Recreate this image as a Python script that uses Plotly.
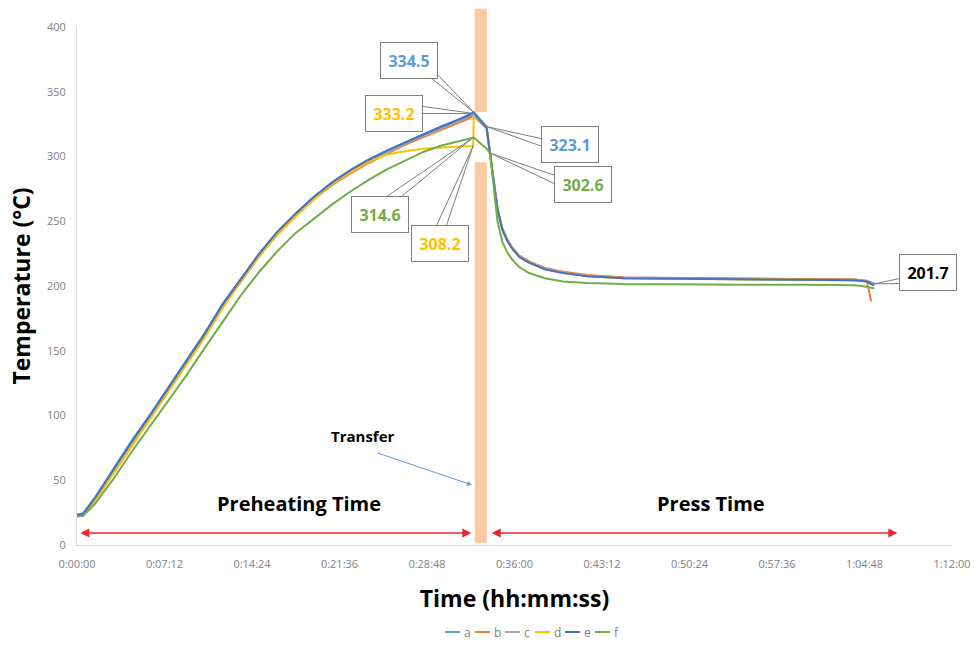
import math
import plotly.graph_objects as go

# Elapsed time in minutes shared by all six thermocouple traces
TIME_MIN = [0, 0.5, 1.5, 3, 4.5, 6, 7.5, 9, 10.5, 12, 13.5, 15, 16.5, 18, 19.5, 21,
            22.5, 24, 25.5, 27, 28.5, 30, 31.5, 32.3, 32.6, 32.65, 33.7, 34.0, 34.3,
            34.6, 35.0, 35.4, 35.8, 36.4, 37.2, 38.5, 40, 42, 45, 50, 55, 60, 64,
            65.0, 65.35, 65.6]

TEMP_A = [23.5, 24.5, 37, 58.5, 80.5, 100.5, 121.5, 142.5, 163.5, 186.5, 206, 225, 242,
          256, 269, 280, 289.5, 297.5, 304.5, 311, 317.5, 323.5, 329, 333, 334.5, 334.3,
          323.1, 300.5, 279.5, 259.5, 244, 235.5, 229.5, 223, 218.5, 213.5, 210.5, 208,
          206.5, 206, 205.5, 205.5, 205, 204, 202.5, 201.7]
TEMP_B = [23, 23.5, 35, 56, 78, 98, 119, 140, 161, 184, 204, 223, 240, 254, 267, 278,
          287, 295, 302, 309, 315, 320.5, 326, 329.5, 331.5, 331.3, 321.5, 299.5, 279,
          259.5, 244.5, 236, 230, 223.5, 219, 214, 211, 208.5, 206.5, 206, 205.5, 205.5,
          205, 203.5, 188, None]
TEMP_C = [23, 24, 36, 57, 79, 99, 120, 141, 162, 185, 205, 224, 241, 255, 268, 279, 288,
          296, 303, 310, 316, 322, 327.5, 331, 332.5, 332.3, 322, 299.5, 279, 259, 244,
          235.5, 229.5, 223, 218.5, 213.5, 210.5, 208, 206, 205.5, 205, 205, 204.5,
          203.5, 201.5, 201]
TEMP_D = [22.5, 23, 34, 55, 77, 97, 118, 139, 160, 183, 204, 223, 240, 254, 267, 279,
          288, 296, 301.5, 304, 306, 307, 307.8, 308.2, 308.2, 333.2, 323, 300, 279, 259,
          243.5, 235, 229, 222.5, 218, 213, 210, 207.5, 206, 205.5, 205, 205, 204.5,
          203.5, 201.5, 201]
TEMP_E = [23, 24, 36.5, 58, 80, 100, 121, 142, 163, 186, 206, 225, 242, 256, 269, 280,
          289.5, 297.5, 304.5, 311, 317, 323, 328.5, 332, 333.8, 333.6, 322.6, 300, 279,
          259, 243.5, 235, 229, 222.5, 218, 213, 210, 207.5, 206, 205.5, 205, 205, 204.5,
          203.5, 201.5, 200.8]
TEMP_F = [22, 22.5, 32, 51, 72, 92, 112, 131, 152, 173, 193, 211, 227, 241, 252, 263,
          273, 282, 290, 297, 303.5, 308.5, 312, 313.8, 314.6, 314.6, 306, 302.6, 276, 250,
          234, 226, 220.5, 214.5, 210, 206, 203.5, 202.3, 201.5, 201, 201, 201, 200.5,
          199.5, 198.5, 198]

SERIES_NAMES = ["a", "b", "c", "d", "e", "f"]
SERIES_COLORS = ["#5B9BD5", "#ED7D31", "#A5A5A5", "#FFC000", "#4472C4", "#70AD47"]
SERIES_VALUES = [TEMP_A, TEMP_B, TEMP_C, TEMP_D, TEMP_E, TEMP_F]

X_TICK_VALS = [0, 7.2, 14.4, 21.6, 28.8, 36, 43.2, 50.4, 57.6, 64.8, 72]
X_TICK_TEXT = ["0:00:00", "0:07:12", "0:14:24", "0:21:36", "0:28:48", "0:36:00",
               "0:43:12", "0:50:24", "0:57:36", "1:04:48", "1:12:00"]

# Transfer window between the preheating and press stages (minutes)
TRANSFER_START, TRANSFER_END = 32.73, 33.72
PREHEAT_SPAN = (0.15, 32.45)
PRESS_SPAN = (34.0, 67.5)

X_RANGE = [0, 72]
Y_RANGE = [0, 400]

# Figure geometry
W, H = 974, 651
M_L, M_R, M_T, M_B = 77, 22, 27, 106
PLOT_W = W - M_L - M_R
PLOT_H = H - M_T - M_B
PX_PER_X = PLOT_W / (X_RANGE[1] - X_RANGE[0])
PX_PER_Y = PLOT_H / (Y_RANGE[1] - Y_RANGE[0])

fig = go.Figure()

# Transfer band: drawn in two pieces leaving a window where the curves cross
band_color = "#FBC9A4"
fig.add_shape(type="rect", xref="x", yref="paper", x0=TRANSFER_START, x1=TRANSFER_END,
              y0=0.836, y1=1.035, fillcolor=band_color, line_width=0, layer="below")
fig.add_shape(type="rect", xref="x", yref="paper", x0=TRANSFER_START, x1=TRANSFER_END,
              y0=0.004, y1=0.739, fillcolor=band_color, line_width=0, layer="below")

for name, color, vals in zip(SERIES_NAMES, SERIES_COLORS, SERIES_VALUES):
    fig.add_trace(go.Scatter(x=TIME_MIN, y=vals, mode="lines", name=name,
                             line=dict(color=color, width=2), connectgaps=False,
                             showlegend=False))

# Value callouts: (series, index into TIME_MIN, box centre in data coords, text colour)
callouts = [
    (TEMP_A, 24, 27.3, 374.5, "#5B9BD5"),
    (TEMP_D, 25, 26.1, 333.2, "#FFC000"),
    (TEMP_A, 26, 40.6, 308.9, "#5B9BD5"),
    (TEMP_F, 27, 41.6, 278.0, "#70AD47"),
    (TEMP_F, 24, 24.9, 255.2, "#70AD47"),
    (TEMP_D, 24, 29.9, 232.8, "#FFC000"),
    (TEMP_A, 45, 70.06, 210.4, "#000000"),
]
leader = dict(showarrow=True, arrowhead=0, arrowwidth=1, arrowcolor="#7F7F7F",
              xref="x", yref="y", axref="x", ayref="y")
for vals, idx, bx, by, tcol in callouts:
    px, py = TIME_MIN[idx], vals[idx]
    # second leader line, fanned out from the box so each callout shows a thin wedge
    dx = (px - bx) * PX_PER_X
    dy = (py - by) * PX_PER_Y
    n = math.hypot(dx, dy)
    ox, oy = -dy / n * 11, dx / n * 11
    fig.add_annotation(x=px, y=py, ax=bx + ox / PX_PER_X, ay=by + oy / PX_PER_Y,
                       text="", **leader)
    fig.add_annotation(x=px, y=py, ax=bx, ay=by, text=f"{vals[idx]}",
                       font=dict(family="Open Sans", size=16, color=tcol, weight="bold"),
                       bgcolor="white", bordercolor="#7F7F7F", borderwidth=1,
                       borderpad=2, width=52, height=31, **leader)

# Stage arrows along the bottom
for span in (PREHEAT_SPAN, PRESS_SPAN):
    fig.add_annotation(x=span[1], y=9.3, ax=span[0], ay=9.3, xref="x", yref="y",
                       axref="x", ayref="y", text="", showarrow=True,
                       arrowside="end+start", arrowhead=2, arrowsize=1.2,
                       arrowwidth=1.5, arrowcolor="#E8262A")

label_font = dict(family="Open Sans", size=20, color="black", weight="bold")
fig.add_annotation(x=18.3, y=32.4, xref="x", yref="y", text="Preheating Time",
                   showarrow=False, font=label_font)
fig.add_annotation(x=52.2, y=32.4, xref="x", yref="y", text="Press Time",
                   showarrow=False, font=label_font)
fig.add_annotation(x=23.5, y=84.5, xref="x", yref="y", text="Transfer",
                   showarrow=False, font=dict(family="Open Sans", size=15,
                                              color="black", weight="bold"))
fig.add_annotation(x=32.5, y=46.3, ax=24.6, ay=71.5, xref="x", yref="y",
                   axref="x", ayref="y", text="", showarrow=True, arrowhead=2,
                   arrowsize=1, arrowwidth=1, arrowcolor="#5B9BD5")

# Compact series key below the axis title
KEY_LEFT_PX, KEY_PITCH_PX, KEY_LINE_PX, KEY_Y_PX = 445, 30, 15, 632
key_y = -(KEY_Y_PX - (H - M_B)) / PLOT_H
for i, (name, color) in enumerate(zip(SERIES_NAMES, SERIES_COLORS)):
    x0 = KEY_LEFT_PX + i * KEY_PITCH_PX
    fig.add_shape(type="line", xref="paper", yref="paper",
                  x0=(x0 - M_L) / PLOT_W, x1=(x0 + KEY_LINE_PX - M_L) / PLOT_W,
                  y0=key_y, y1=key_y, line=dict(color=color, width=2))
    fig.add_annotation(x=(x0 + KEY_LINE_PX + 2 - M_L) / PLOT_W, y=key_y,
                       xref="paper", yref="paper", xanchor="left", yanchor="middle",
                       text=name, showarrow=False,
                       font=dict(family="Open Sans", size=12, color="#7F7F7F"))

fig.update_layout(
    width=W, height=H,
    margin=dict(l=M_L, r=M_R, t=M_T, b=M_B),
    plot_bgcolor="white", paper_bgcolor="white",
    font=dict(family="Open Sans", color="#595959"),
    showlegend=False,
    xaxis=dict(range=X_RANGE, tickvals=X_TICK_VALS, ticktext=X_TICK_TEXT,
               showgrid=False, zeroline=False, showline=True, linecolor="#D9D9D9",
               linewidth=1, ticks="", tickfont=dict(size=11, color="#7F7F7F"),
               ticklabelstandoff=9,
               title=dict(text="Time (hh:mm:ss)", standoff=20,
                          font=dict(family="Open Sans", size=23, color="black",
                                    weight="bold")),
               automargin=False),
    yaxis=dict(range=Y_RANGE, tickvals=list(range(0, 401, 50)), showgrid=False,
               zeroline=False, showline=True, linecolor="#D9D9D9", linewidth=1,
               ticks="", tickfont=dict(size=11, color="#7F7F7F"),
               ticklabelstandoff=8,
               title=dict(text="Temperature (°C)", standoff=9,
                          font=dict(family="Open Sans", size=23, color="black",
                                    weight="bold")),
               automargin=False),
)

fig.write_html("out.html")
